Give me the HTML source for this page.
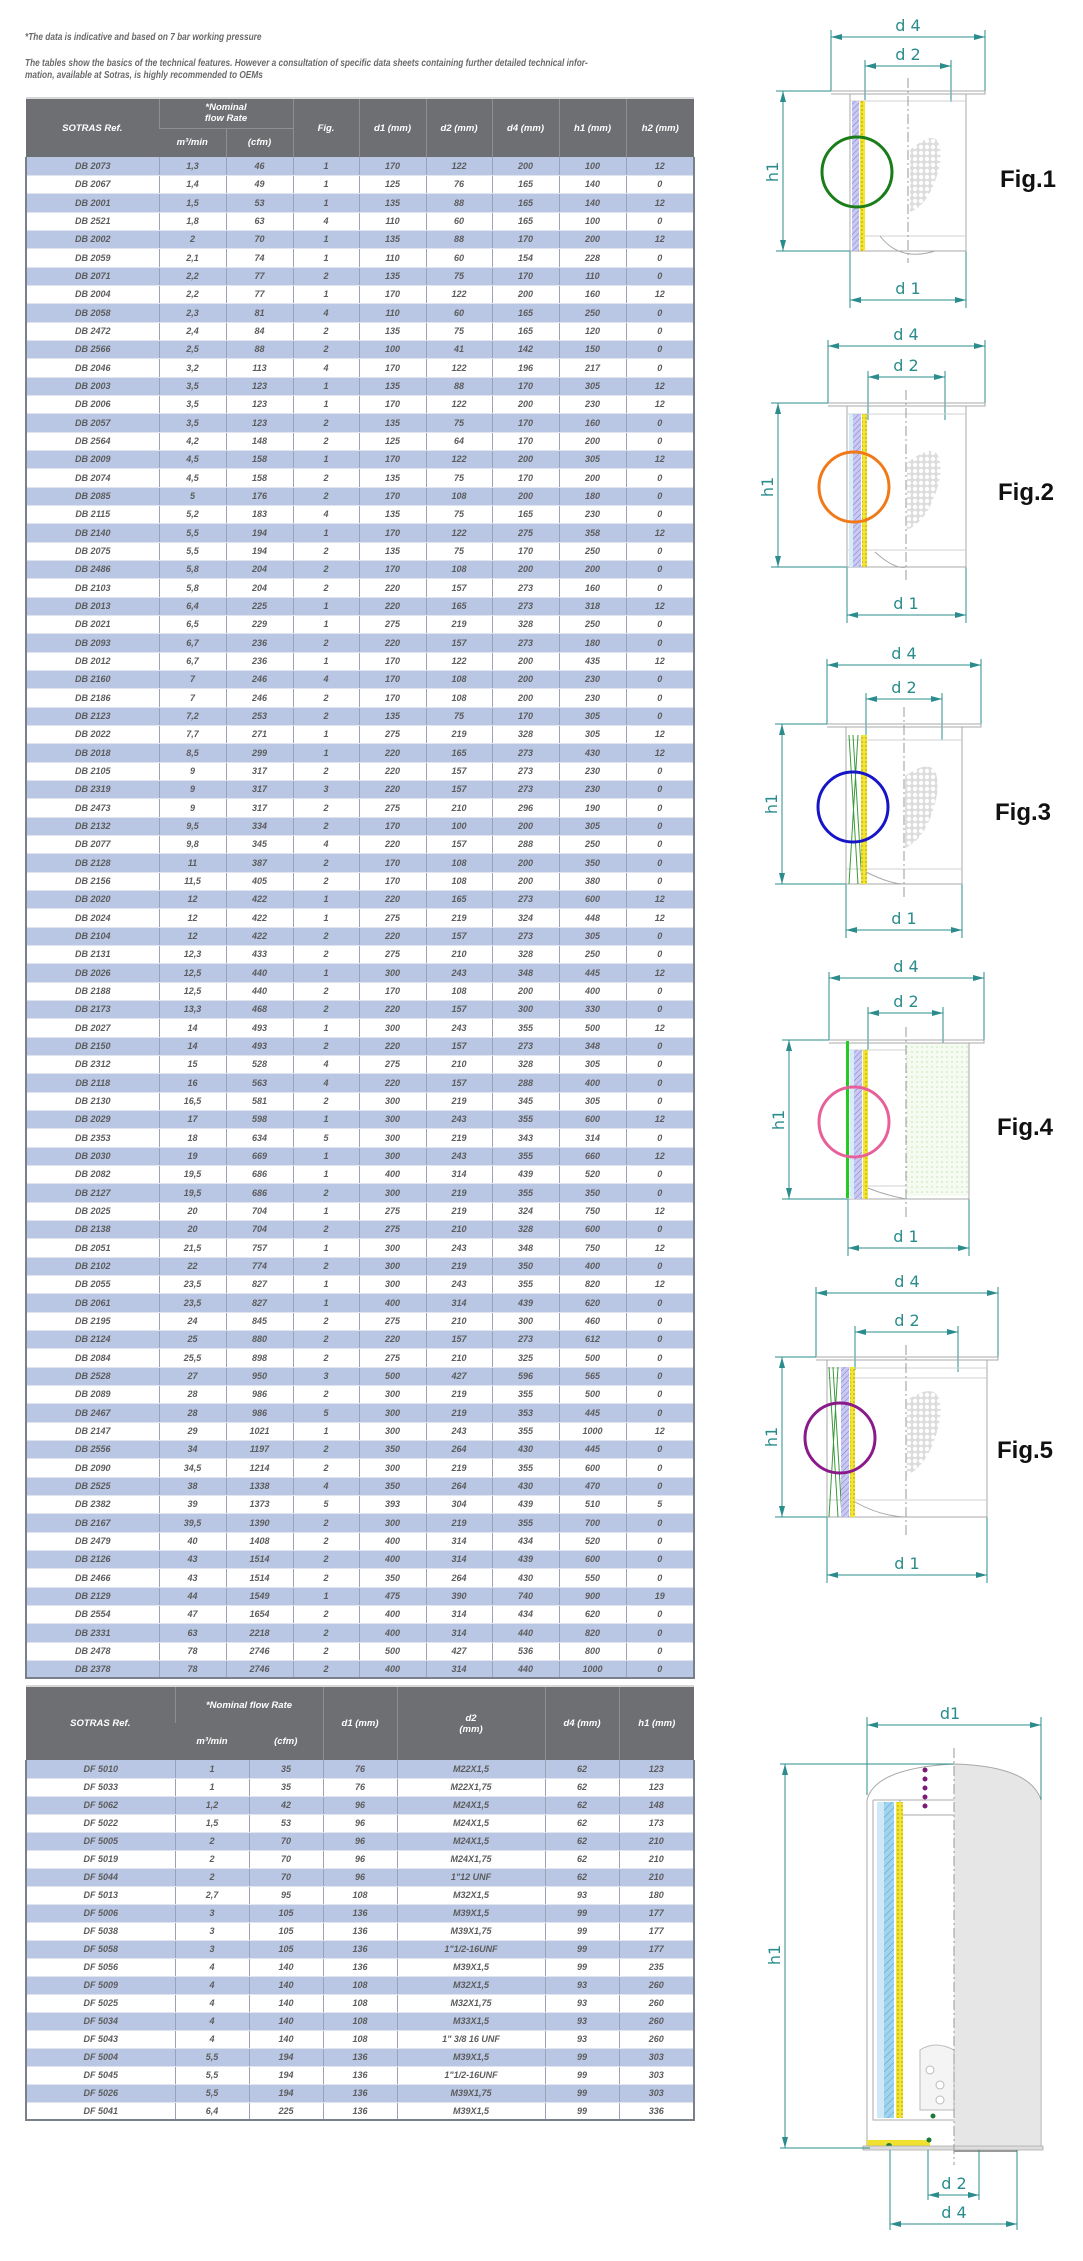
<!DOCTYPE html>
<html><head><meta charset="utf-8">
<style>
html,body{margin:0;padding:0;background:#fff;}
body{width:1083px;height:2261px;position:relative;overflow:hidden;font-family:"Liberation Sans",sans-serif;}
.note{position:absolute;left:25px;font-size:10.5px;font-weight:bold;font-style:italic;color:#6a6a6a;white-space:nowrap;transform:scaleX(0.79);transform-origin:left top;}
table{position:absolute;left:25px;border-collapse:collapse;table-layout:fixed;width:668px;font-size:9px;font-weight:bold;font-style:italic;color:#5c5c5c;}
td,th{text-align:center;padding:0;overflow:hidden;white-space:nowrap;}
th{background:#6e6f72;color:#fff;font-size:9.5px;border-left:1px solid #8e8f93;}
th:first-child{border-left:none;}
tbody tr{height:18px;}
#t1 tbody tr:nth-child(3n){height:19px;}
tbody td{border-left:1px solid #9aa2b8;border-bottom:1px solid #dfe4ef;line-height:10px;}
tbody td:first-child{border-left:2px solid #7a7f8c;}
tbody td:last-child{border-right:2px solid #7a7f8c;}
tbody tr:nth-child(odd){background:#b9c7e4;}
tbody tr:nth-child(even){background:#fff;}
tbody tr:last-child td{border-bottom:2px solid #7a7f8c;}
#t1{top:97px;border-top:2px solid #d8d8d8;}
#t2{top:1685px;border-top:2px solid #d8d8d8;}
svg{position:absolute;left:0;top:0;}
.dim{stroke:#2a8c8c;stroke-width:1;fill:none;}
.lab{fill:#2a8c8c;font-family:"DejaVu Sans","Liberation Sans",sans-serif;font-size:16px;text-anchor:middle;}
.fig{fill:#111;font-family:"Liberation Sans",sans-serif;font-size:24px;font-weight:bold;}
.body{stroke:#a8a8a8;stroke-width:1;fill:none;}
.thin{stroke:#d0d0d0;stroke-width:1;}
.cl{stroke:#9a9a9a;stroke-width:1;stroke-dasharray:10 3 2 3;}
</style></head><body>
<div class="note" style="top:31px">*The data is indicative and based on 7 bar working pressure</div>
<div class="note" style="top:57px">The tables show the basics of the technical features. However a consultation of specific data sheets containing further detailed technical infor-</div>
<div class="note" style="top:69px">mation, available at Sotras, is highly recommended to OEMs</div>

<table id="t1">
<colgroup><col style="width:133px"><col style="width:67px"><col style="width:67px"><col style="width:66px"><col style="width:67px"><col style="width:66px"><col style="width:67px"><col style="width:67px"><col style="width:68px"></colgroup>
<thead>
<tr style="height:30px"><th rowspan="2">SOTRAS Ref.</th><th colspan="2" style="border-bottom:1px solid #8e8f93">*Nominal<br>flow Rate</th><th rowspan="2">Fig.</th><th rowspan="2">d1 (mm)</th><th rowspan="2">d2 (mm)</th><th rowspan="2">d4 (mm)</th><th rowspan="2">h1 (mm)</th><th rowspan="2">h2 (mm)</th></tr>
<tr style="height:29px"><th style="border-left:none">m³/min</th><th>(cfm)</th></tr>
</thead>
<tbody>
<tr><td>DB 2073</td><td>1,3</td><td>46</td><td>1</td><td>170</td><td>122</td><td>200</td><td>100</td><td>12</td></tr>
<tr><td>DB 2067</td><td>1,4</td><td>49</td><td>1</td><td>125</td><td>76</td><td>165</td><td>140</td><td>0</td></tr>
<tr><td>DB 2001</td><td>1,5</td><td>53</td><td>1</td><td>135</td><td>88</td><td>165</td><td>140</td><td>12</td></tr>
<tr><td>DB 2521</td><td>1,8</td><td>63</td><td>4</td><td>110</td><td>60</td><td>165</td><td>100</td><td>0</td></tr>
<tr><td>DB 2002</td><td>2</td><td>70</td><td>1</td><td>135</td><td>88</td><td>170</td><td>200</td><td>12</td></tr>
<tr><td>DB 2059</td><td>2,1</td><td>74</td><td>1</td><td>110</td><td>60</td><td>154</td><td>228</td><td>0</td></tr>
<tr><td>DB 2071</td><td>2,2</td><td>77</td><td>2</td><td>135</td><td>75</td><td>170</td><td>110</td><td>0</td></tr>
<tr><td>DB 2004</td><td>2,2</td><td>77</td><td>1</td><td>170</td><td>122</td><td>200</td><td>160</td><td>12</td></tr>
<tr><td>DB 2058</td><td>2,3</td><td>81</td><td>4</td><td>110</td><td>60</td><td>165</td><td>250</td><td>0</td></tr>
<tr><td>DB 2472</td><td>2,4</td><td>84</td><td>2</td><td>135</td><td>75</td><td>165</td><td>120</td><td>0</td></tr>
<tr><td>DB 2566</td><td>2,5</td><td>88</td><td>2</td><td>100</td><td>41</td><td>142</td><td>150</td><td>0</td></tr>
<tr><td>DB 2046</td><td>3,2</td><td>113</td><td>4</td><td>170</td><td>122</td><td>196</td><td>217</td><td>0</td></tr>
<tr><td>DB 2003</td><td>3,5</td><td>123</td><td>1</td><td>135</td><td>88</td><td>170</td><td>305</td><td>12</td></tr>
<tr><td>DB 2006</td><td>3,5</td><td>123</td><td>1</td><td>170</td><td>122</td><td>200</td><td>230</td><td>12</td></tr>
<tr><td>DB 2057</td><td>3,5</td><td>123</td><td>2</td><td>135</td><td>75</td><td>170</td><td>160</td><td>0</td></tr>
<tr><td>DB 2564</td><td>4,2</td><td>148</td><td>2</td><td>125</td><td>64</td><td>170</td><td>200</td><td>0</td></tr>
<tr><td>DB 2009</td><td>4,5</td><td>158</td><td>1</td><td>170</td><td>122</td><td>200</td><td>305</td><td>12</td></tr>
<tr><td>DB 2074</td><td>4,5</td><td>158</td><td>2</td><td>135</td><td>75</td><td>170</td><td>200</td><td>0</td></tr>
<tr><td>DB 2085</td><td>5</td><td>176</td><td>2</td><td>170</td><td>108</td><td>200</td><td>180</td><td>0</td></tr>
<tr><td>DB 2115</td><td>5,2</td><td>183</td><td>4</td><td>135</td><td>75</td><td>165</td><td>230</td><td>0</td></tr>
<tr><td>DB 2140</td><td>5,5</td><td>194</td><td>1</td><td>170</td><td>122</td><td>275</td><td>358</td><td>12</td></tr>
<tr><td>DB 2075</td><td>5,5</td><td>194</td><td>2</td><td>135</td><td>75</td><td>170</td><td>250</td><td>0</td></tr>
<tr><td>DB 2486</td><td>5,8</td><td>204</td><td>2</td><td>170</td><td>108</td><td>200</td><td>200</td><td>0</td></tr>
<tr><td>DB 2103</td><td>5,8</td><td>204</td><td>2</td><td>220</td><td>157</td><td>273</td><td>160</td><td>0</td></tr>
<tr><td>DB 2013</td><td>6,4</td><td>225</td><td>1</td><td>220</td><td>165</td><td>273</td><td>318</td><td>12</td></tr>
<tr><td>DB 2021</td><td>6,5</td><td>229</td><td>1</td><td>275</td><td>219</td><td>328</td><td>250</td><td>0</td></tr>
<tr><td>DB 2093</td><td>6,7</td><td>236</td><td>2</td><td>220</td><td>157</td><td>273</td><td>180</td><td>0</td></tr>
<tr><td>DB 2012</td><td>6,7</td><td>236</td><td>1</td><td>170</td><td>122</td><td>200</td><td>435</td><td>12</td></tr>
<tr><td>DB 2160</td><td>7</td><td>246</td><td>4</td><td>170</td><td>108</td><td>200</td><td>230</td><td>0</td></tr>
<tr><td>DB 2186</td><td>7</td><td>246</td><td>2</td><td>170</td><td>108</td><td>200</td><td>230</td><td>0</td></tr>
<tr><td>DB 2123</td><td>7,2</td><td>253</td><td>2</td><td>135</td><td>75</td><td>170</td><td>305</td><td>0</td></tr>
<tr><td>DB 2022</td><td>7,7</td><td>271</td><td>1</td><td>275</td><td>219</td><td>328</td><td>305</td><td>12</td></tr>
<tr><td>DB 2018</td><td>8,5</td><td>299</td><td>1</td><td>220</td><td>165</td><td>273</td><td>430</td><td>12</td></tr>
<tr><td>DB 2105</td><td>9</td><td>317</td><td>2</td><td>220</td><td>157</td><td>273</td><td>230</td><td>0</td></tr>
<tr><td>DB 2319</td><td>9</td><td>317</td><td>3</td><td>220</td><td>157</td><td>273</td><td>230</td><td>0</td></tr>
<tr><td>DB 2473</td><td>9</td><td>317</td><td>2</td><td>275</td><td>210</td><td>296</td><td>190</td><td>0</td></tr>
<tr><td>DB 2132</td><td>9,5</td><td>334</td><td>2</td><td>170</td><td>100</td><td>200</td><td>305</td><td>0</td></tr>
<tr><td>DB 2077</td><td>9,8</td><td>345</td><td>4</td><td>220</td><td>157</td><td>288</td><td>250</td><td>0</td></tr>
<tr><td>DB 2128</td><td>11</td><td>387</td><td>2</td><td>170</td><td>108</td><td>200</td><td>350</td><td>0</td></tr>
<tr><td>DB 2156</td><td>11,5</td><td>405</td><td>2</td><td>170</td><td>108</td><td>200</td><td>380</td><td>0</td></tr>
<tr><td>DB 2020</td><td>12</td><td>422</td><td>1</td><td>220</td><td>165</td><td>273</td><td>600</td><td>12</td></tr>
<tr><td>DB 2024</td><td>12</td><td>422</td><td>1</td><td>275</td><td>219</td><td>324</td><td>448</td><td>12</td></tr>
<tr><td>DB 2104</td><td>12</td><td>422</td><td>2</td><td>220</td><td>157</td><td>273</td><td>305</td><td>0</td></tr>
<tr><td>DB 2131</td><td>12,3</td><td>433</td><td>2</td><td>275</td><td>210</td><td>328</td><td>250</td><td>0</td></tr>
<tr><td>DB 2026</td><td>12,5</td><td>440</td><td>1</td><td>300</td><td>243</td><td>348</td><td>445</td><td>12</td></tr>
<tr><td>DB 2188</td><td>12,5</td><td>440</td><td>2</td><td>170</td><td>108</td><td>200</td><td>400</td><td>0</td></tr>
<tr><td>DB 2173</td><td>13,3</td><td>468</td><td>2</td><td>220</td><td>157</td><td>300</td><td>330</td><td>0</td></tr>
<tr><td>DB 2027</td><td>14</td><td>493</td><td>1</td><td>300</td><td>243</td><td>355</td><td>500</td><td>12</td></tr>
<tr><td>DB 2150</td><td>14</td><td>493</td><td>2</td><td>220</td><td>157</td><td>273</td><td>348</td><td>0</td></tr>
<tr><td>DB 2312</td><td>15</td><td>528</td><td>4</td><td>275</td><td>210</td><td>328</td><td>305</td><td>0</td></tr>
<tr><td>DB 2118</td><td>16</td><td>563</td><td>4</td><td>220</td><td>157</td><td>288</td><td>400</td><td>0</td></tr>
<tr><td>DB 2130</td><td>16,5</td><td>581</td><td>2</td><td>300</td><td>219</td><td>345</td><td>305</td><td>0</td></tr>
<tr><td>DB 2029</td><td>17</td><td>598</td><td>1</td><td>300</td><td>243</td><td>355</td><td>600</td><td>12</td></tr>
<tr><td>DB 2353</td><td>18</td><td>634</td><td>5</td><td>300</td><td>219</td><td>343</td><td>314</td><td>0</td></tr>
<tr><td>DB 2030</td><td>19</td><td>669</td><td>1</td><td>300</td><td>243</td><td>355</td><td>660</td><td>12</td></tr>
<tr><td>DB 2082</td><td>19,5</td><td>686</td><td>1</td><td>400</td><td>314</td><td>439</td><td>520</td><td>0</td></tr>
<tr><td>DB 2127</td><td>19,5</td><td>686</td><td>2</td><td>300</td><td>219</td><td>355</td><td>350</td><td>0</td></tr>
<tr><td>DB 2025</td><td>20</td><td>704</td><td>1</td><td>275</td><td>219</td><td>324</td><td>750</td><td>12</td></tr>
<tr><td>DB 2138</td><td>20</td><td>704</td><td>2</td><td>275</td><td>210</td><td>328</td><td>600</td><td>0</td></tr>
<tr><td>DB 2051</td><td>21,5</td><td>757</td><td>1</td><td>300</td><td>243</td><td>348</td><td>750</td><td>12</td></tr>
<tr><td>DB 2102</td><td>22</td><td>774</td><td>2</td><td>300</td><td>219</td><td>350</td><td>400</td><td>0</td></tr>
<tr><td>DB 2055</td><td>23,5</td><td>827</td><td>1</td><td>300</td><td>243</td><td>355</td><td>820</td><td>12</td></tr>
<tr><td>DB 2061</td><td>23,5</td><td>827</td><td>1</td><td>400</td><td>314</td><td>439</td><td>620</td><td>0</td></tr>
<tr><td>DB 2195</td><td>24</td><td>845</td><td>2</td><td>275</td><td>210</td><td>300</td><td>460</td><td>0</td></tr>
<tr><td>DB 2124</td><td>25</td><td>880</td><td>2</td><td>220</td><td>157</td><td>273</td><td>612</td><td>0</td></tr>
<tr><td>DB 2084</td><td>25,5</td><td>898</td><td>2</td><td>275</td><td>210</td><td>325</td><td>500</td><td>0</td></tr>
<tr><td>DB 2528</td><td>27</td><td>950</td><td>3</td><td>500</td><td>427</td><td>596</td><td>565</td><td>0</td></tr>
<tr><td>DB 2089</td><td>28</td><td>986</td><td>2</td><td>300</td><td>219</td><td>355</td><td>500</td><td>0</td></tr>
<tr><td>DB 2467</td><td>28</td><td>986</td><td>5</td><td>300</td><td>219</td><td>353</td><td>445</td><td>0</td></tr>
<tr><td>DB 2147</td><td>29</td><td>1021</td><td>1</td><td>300</td><td>243</td><td>355</td><td>1000</td><td>12</td></tr>
<tr><td>DB 2556</td><td>34</td><td>1197</td><td>2</td><td>350</td><td>264</td><td>430</td><td>445</td><td>0</td></tr>
<tr><td>DB 2090</td><td>34,5</td><td>1214</td><td>2</td><td>300</td><td>219</td><td>355</td><td>600</td><td>0</td></tr>
<tr><td>DB 2525</td><td>38</td><td>1338</td><td>4</td><td>350</td><td>264</td><td>430</td><td>470</td><td>0</td></tr>
<tr><td>DB 2382</td><td>39</td><td>1373</td><td>5</td><td>393</td><td>304</td><td>439</td><td>510</td><td>5</td></tr>
<tr><td>DB 2167</td><td>39,5</td><td>1390</td><td>2</td><td>300</td><td>219</td><td>355</td><td>700</td><td>0</td></tr>
<tr><td>DB 2479</td><td>40</td><td>1408</td><td>2</td><td>400</td><td>314</td><td>434</td><td>520</td><td>0</td></tr>
<tr><td>DB 2126</td><td>43</td><td>1514</td><td>2</td><td>400</td><td>314</td><td>439</td><td>600</td><td>0</td></tr>
<tr><td>DB 2466</td><td>43</td><td>1514</td><td>2</td><td>350</td><td>264</td><td>430</td><td>550</td><td>0</td></tr>
<tr><td>DB 2129</td><td>44</td><td>1549</td><td>1</td><td>475</td><td>390</td><td>740</td><td>900</td><td>19</td></tr>
<tr><td>DB 2554</td><td>47</td><td>1654</td><td>2</td><td>400</td><td>314</td><td>434</td><td>620</td><td>0</td></tr>
<tr><td>DB 2331</td><td>63</td><td>2218</td><td>2</td><td>400</td><td>314</td><td>440</td><td>820</td><td>0</td></tr>
<tr><td>DB 2478</td><td>78</td><td>2746</td><td>2</td><td>500</td><td>427</td><td>536</td><td>800</td><td>0</td></tr>
<tr><td>DB 2378</td><td>78</td><td>2746</td><td>2</td><td>400</td><td>314</td><td>440</td><td>1000</td><td>0</td></tr>
</tbody></table>

<table id="t2">
<colgroup><col style="width:149px"><col style="width:74px"><col style="width:74px"><col style="width:74px"><col style="width:148px"><col style="width:74px"><col style="width:75px"></colgroup>
<thead>
<tr style="height:37px"><th rowspan="2">SOTRAS Ref.</th><th colspan="2">*Nominal flow Rate</th><th rowspan="2">d1 (mm)</th><th rowspan="2">d2<br>(mm)</th><th rowspan="2">d4 (mm)</th><th rowspan="2">h1 (mm)</th></tr>
<tr style="height:37px"><th style="border-left:none">m³/min</th><th style="border-left:none">(cfm)</th></tr>
</thead>
<tbody>
<tr><td>DF 5010</td><td>1</td><td>35</td><td>76</td><td>M22X1,5</td><td>62</td><td>123</td></tr>
<tr><td>DF 5033</td><td>1</td><td>35</td><td>76</td><td>M22X1,75</td><td>62</td><td>123</td></tr>
<tr><td>DF 5062</td><td>1,2</td><td>42</td><td>96</td><td>M24X1,5</td><td>62</td><td>148</td></tr>
<tr><td>DF 5022</td><td>1,5</td><td>53</td><td>96</td><td>M24X1,5</td><td>62</td><td>173</td></tr>
<tr><td>DF 5005</td><td>2</td><td>70</td><td>96</td><td>M24X1,5</td><td>62</td><td>210</td></tr>
<tr><td>DF 5019</td><td>2</td><td>70</td><td>96</td><td>M24X1,75</td><td>62</td><td>210</td></tr>
<tr><td>DF 5044</td><td>2</td><td>70</td><td>96</td><td>1"12 UNF</td><td>62</td><td>210</td></tr>
<tr><td>DF 5013</td><td>2,7</td><td>95</td><td>108</td><td>M32X1,5</td><td>93</td><td>180</td></tr>
<tr><td>DF 5006</td><td>3</td><td>105</td><td>136</td><td>M39X1,5</td><td>99</td><td>177</td></tr>
<tr><td>DF 5038</td><td>3</td><td>105</td><td>136</td><td>M39X1,75</td><td>99</td><td>177</td></tr>
<tr><td>DF 5058</td><td>3</td><td>105</td><td>136</td><td>1"1/2-16UNF</td><td>99</td><td>177</td></tr>
<tr><td>DF 5056</td><td>4</td><td>140</td><td>136</td><td>M39X1,5</td><td>99</td><td>235</td></tr>
<tr><td>DF 5009</td><td>4</td><td>140</td><td>108</td><td>M32X1,5</td><td>93</td><td>260</td></tr>
<tr><td>DF 5025</td><td>4</td><td>140</td><td>108</td><td>M32X1,75</td><td>93</td><td>260</td></tr>
<tr><td>DF 5034</td><td>4</td><td>140</td><td>108</td><td>M33X1,5</td><td>93</td><td>260</td></tr>
<tr><td>DF 5043</td><td>4</td><td>140</td><td>108</td><td>1" 3/8 16 UNF</td><td>93</td><td>260</td></tr>
<tr><td>DF 5004</td><td>5,5</td><td>194</td><td>136</td><td>M39X1,5</td><td>99</td><td>303</td></tr>
<tr><td>DF 5045</td><td>5,5</td><td>194</td><td>136</td><td>1"1/2-16UNF</td><td>99</td><td>303</td></tr>
<tr><td>DF 5026</td><td>5,5</td><td>194</td><td>136</td><td>M39X1,75</td><td>99</td><td>303</td></tr>
<tr><td>DF 5041</td><td>6,4</td><td>225</td><td>136</td><td>M39X1,5</td><td>99</td><td>336</td></tr>
</tbody></table>

<svg width="1083" height="2261" viewBox="0 0 1083 2261">
<defs>
<marker id="ar" markerWidth="11" markerHeight="6" refX="11" refY="3" orient="auto-start-reverse" markerUnits="userSpaceOnUse"><path d="M0,0L11,3L0,6z" fill="#2a8c8c"/></marker>
<pattern id="hatch" width="4" height="4" patternUnits="userSpaceOnUse" patternTransform="rotate(45)"><rect width="4" height="4" fill="#c9c9f2"/><line x1="0" y1="0" x2="0" y2="4" stroke="#7b7bd0" stroke-width="1"/></pattern>
<pattern id="hatchb" width="5" height="5" patternUnits="userSpaceOnUse" patternTransform="rotate(45)"><rect width="5" height="5" fill="#9fd3ef"/><line x1="0" y1="0" x2="0" y2="5" stroke="#5a9fc6" stroke-width="1"/></pattern>
<pattern id="yel" width="4" height="4" patternUnits="userSpaceOnUse"><rect width="4" height="4" fill="#f2e430"/><circle cx="2" cy="2" r="1" fill="#c8b820"/></pattern>
<pattern id="dots" width="6" height="6" patternUnits="userSpaceOnUse"><rect width="6" height="6" fill="#ddd"/><circle cx="3" cy="3" r="2.2" fill="#fff"/></pattern>
<pattern id="gdots" width="5" height="5" patternUnits="userSpaceOnUse"><rect width="5" height="5" fill="#f6fbf2"/><circle cx="2" cy="2" r="0.6" fill="#9fd88a"/></pattern>
</defs>

<!-- FIG 1 -->
<g>
<path class="dim" d="M831 30V91M985 30V91M865 60V100M951 60V102M776 91H850M776 251H850M850 251V308M966 251V308"/>
<line class="dim" x1="831" y1="37" x2="985" y2="37" marker-start="url(#ar)" marker-end="url(#ar)"/>
<line class="dim" x1="865" y1="66" x2="951" y2="66" marker-start="url(#ar)" marker-end="url(#ar)"/>
<line class="dim" x1="783" y1="91" x2="783" y2="251" marker-start="url(#ar)" marker-end="url(#ar)"/>
<line class="dim" x1="850" y1="300" x2="966" y2="300" marker-start="url(#ar)" marker-end="url(#ar)"/>
<text class="lab" x="908" y="31">d 4</text><text class="lab" x="908" y="60">d 2</text><text class="lab" x="908" y="294">d 1</text>
<text class="lab" transform="translate(778,172) rotate(-90)">h1</text>
<path class="body" d="M831 91H985V94H831M850 94V251H966V94"/>
<line class="thin" x1="850" y1="101" x2="966" y2="101"/><line class="thin" x1="850" y1="236" x2="966" y2="236"/>
<rect x="852" y="101" width="7" height="150" fill="url(#hatch)"/><rect x="860" y="101" width="5" height="150" fill="url(#yel)"/>
<path d="M910 150Q945 120 940 165Q930 205 910 212Z" fill="url(#dots)"/>
<path d="M880 236Q900 262 935 251" class="body"/>
<line class="cl" x1="908" y1="78" x2="908" y2="263"/>
<circle cx="857" cy="172" r="35" fill="none" stroke="#1a7d1a" stroke-width="3"/>
<text class="fig" x="1000" y="187">Fig.1</text>
</g>

<!-- FIG 2 -->
<g>
<path class="dim" d="M828 340V403M985 340V403M868 371V420M945 371V420M771 403H847M771 567H847M847 567V623M966 567V623"/>
<line class="dim" x1="828" y1="346" x2="985" y2="346" marker-start="url(#ar)" marker-end="url(#ar)"/>
<line class="dim" x1="868" y1="377" x2="945" y2="377" marker-start="url(#ar)" marker-end="url(#ar)"/>
<line class="dim" x1="778" y1="403" x2="778" y2="567" marker-start="url(#ar)" marker-end="url(#ar)"/>
<line class="dim" x1="847" y1="615" x2="966" y2="615" marker-start="url(#ar)" marker-end="url(#ar)"/>
<text class="lab" x="906" y="340">d 4</text><text class="lab" x="906" y="371">d 2</text><text class="lab" x="906" y="609">d 1</text>
<text class="lab" transform="translate(773,487) rotate(-90)">h1</text>
<path class="body" d="M828 403H985V406H828M847 406V567H966V406"/>
<line class="thin" x1="847" y1="414" x2="966" y2="414"/><line class="thin" x1="847" y1="550" x2="966" y2="550"/>
<rect x="849" y="414" width="4" height="153" fill="#d8ecf8"/><rect x="853" y="414" width="8" height="153" fill="url(#hatch)"/><rect x="862" y="414" width="5" height="153" fill="url(#yel)"/>
<path d="M907 463Q945 433 940 478Q930 520 907 530Z" fill="url(#dots)"/>
<path d="M875 552Q895 570 906 567" class="body"/>
<line class="cl" x1="906" y1="390" x2="906" y2="580"/>
<circle cx="854" cy="487" r="35" fill="none" stroke="#f07a1a" stroke-width="3"/>
<text class="fig" x="998" y="500">Fig.2</text>
</g>

<!-- FIG 3 -->
<g>
<path class="dim" d="M827 659V724M981 659V724M866 693V740M942 693V740M775 724H846M775 884H846M846 884V938M962 884V938"/>
<line class="dim" x1="827" y1="665" x2="981" y2="665" marker-start="url(#ar)" marker-end="url(#ar)"/>
<line class="dim" x1="866" y1="699" x2="942" y2="699" marker-start="url(#ar)" marker-end="url(#ar)"/>
<line class="dim" x1="782" y1="724" x2="782" y2="884" marker-start="url(#ar)" marker-end="url(#ar)"/>
<line class="dim" x1="846" y1="930" x2="962" y2="930" marker-start="url(#ar)" marker-end="url(#ar)"/>
<text class="lab" x="904" y="659">d 4</text><text class="lab" x="904" y="693">d 2</text><text class="lab" x="904" y="924">d 1</text>
<text class="lab" transform="translate(777,804) rotate(-90)">h1</text>
<path class="body" d="M827 724H981V727H827M846 727V884H962V727"/>
<line class="thin" x1="846" y1="740" x2="962" y2="740"/><line class="thin" x1="846" y1="869" x2="962" y2="869"/>
<path d="M849 735L858 884M858 735L849 884M853 735L862 884" stroke="#3a9a3a" stroke-width="1" fill="none"/>
<rect x="861" y="735" width="6" height="149" fill="url(#yel)"/>
<path d="M905 776Q942 750 937 795Q928 838 905 848Z" fill="url(#dots)"/>
<path d="M866 872Q890 884 904 884" class="body"/>
<line class="cl" x1="904" y1="707" x2="904" y2="898"/>
<circle cx="853" cy="807" r="35" fill="none" stroke="#1616c8" stroke-width="3"/>
<text class="fig" x="995" y="820">Fig.3</text>
</g>

<!-- FIG 4 -->
<g>
<path class="dim" d="M829 972V1040M984 972V1040M868 1007V1050M943 1007V1050M782 1040H848M782 1199H848M848 1199V1256M969 1199V1256"/>
<line class="dim" x1="829" y1="978" x2="984" y2="978" marker-start="url(#ar)" marker-end="url(#ar)"/>
<line class="dim" x1="868" y1="1013" x2="943" y2="1013" marker-start="url(#ar)" marker-end="url(#ar)"/>
<line class="dim" x1="789" y1="1040" x2="789" y2="1199" marker-start="url(#ar)" marker-end="url(#ar)"/>
<line class="dim" x1="848" y1="1248" x2="969" y2="1248" marker-start="url(#ar)" marker-end="url(#ar)"/>
<text class="lab" x="906" y="972">d 4</text><text class="lab" x="906" y="1007">d 2</text><text class="lab" x="906" y="1242">d 1</text>
<text class="lab" transform="translate(784,1120) rotate(-90)">h1</text>
<rect x="906" y="1043" width="63" height="153" fill="url(#gdots)"/>
<path class="body" d="M829 1040H984V1043H829M848 1043V1199H969V1043"/>
<line class="thin" x1="848" y1="1050" x2="906" y2="1050"/><line class="thin" x1="848" y1="1186" x2="906" y2="1186"/>
<rect x="846" y="1041" width="3" height="157" fill="#22cc22"/>
<rect x="850" y="1050" width="4" height="149" fill="#d8ecf8"/><rect x="854" y="1050" width="8" height="149" fill="url(#hatch)"/><rect x="863" y="1050" width="5" height="149" fill="url(#yel)"/>
<path d="M868 1188Q885 1195 906 1199" class="body"/>
<line class="cl" x1="906" y1="1027" x2="906" y2="1220"/>
<circle cx="854" cy="1122" r="35" fill="none" stroke="#e8609a" stroke-width="3"/>
<text class="fig" x="997" y="1135">Fig.4</text>
</g>

<!-- FIG 5 -->
<g>
<path class="dim" d="M816 1287V1357M998 1287V1357M855 1326V1370M958 1326V1372M775 1357H827M775 1517H827M827 1517V1583M987 1517V1583"/>
<line class="dim" x1="816" y1="1293" x2="998" y2="1293" marker-start="url(#ar)" marker-end="url(#ar)"/>
<line class="dim" x1="855" y1="1332" x2="958" y2="1332" marker-start="url(#ar)" marker-end="url(#ar)"/>
<line class="dim" x1="782" y1="1357" x2="782" y2="1517" marker-start="url(#ar)" marker-end="url(#ar)"/>
<line class="dim" x1="827" y1="1575" x2="987" y2="1575" marker-start="url(#ar)" marker-end="url(#ar)"/>
<text class="lab" x="907" y="1287">d 4</text><text class="lab" x="907" y="1326">d 2</text><text class="lab" x="907" y="1569">d 1</text>
<text class="lab" transform="translate(777,1437) rotate(-90)">h1</text>
<path class="body" d="M816 1357H998V1360H816M827 1360V1517H987V1360"/>
<line class="thin" x1="827" y1="1368" x2="987" y2="1368"/><line class="thin" x1="827" y1="1378" x2="987" y2="1378"/><line class="thin" x1="827" y1="1500" x2="987" y2="1500"/>
<path d="M829 1367L838 1517M838 1367L829 1517M833 1367L842 1517" stroke="#3a9a3a" stroke-width="1" fill="none"/>
<rect x="841" y="1367" width="8" height="150" fill="url(#hatch)"/><rect x="850" y="1367" width="5" height="150" fill="url(#yel)"/>
<path d="M907 1400Q945 1375 940 1420Q930 1465 907 1475Z" fill="url(#dots)"/>
<path d="M855 1502Q880 1516 905 1517" class="body"/>
<line class="cl" x1="906" y1="1345" x2="906" y2="1537"/>
<circle cx="840" cy="1438" r="35" fill="none" stroke="#8a1a8a" stroke-width="3"/>
<text class="fig" x="997" y="1458">Fig.5</text>
</g>

<!-- FIG 6 (bottom) -->
<g>
<path d="M954 1764Q1030 1766 1040 1800V2146H954Z" fill="#e6e6e6"/>
<path class="body" d="M867 1800Q875 1768 954 1764Q1030 1766 1041 1800V2146M867 1800V2146"/>
<path class="body" d="M873 1800H954M873 1800V2120H954M900 1800V1815H954"/>
<rect x="877" y="1802" width="7" height="316" fill="#cfe8f8"/><rect x="884" y="1802" width="10" height="316" fill="url(#hatchb)"/><rect x="896" y="1802" width="7" height="316" fill="url(#yel)"/>
<g fill="#7a1a7a"><circle cx="925" cy="1770" r="2.5"/><circle cx="925" cy="1779" r="2.5"/><circle cx="925" cy="1788" r="2.5"/><circle cx="925" cy="1797" r="2.5"/><circle cx="925" cy="1806" r="2.5"/></g>
<path d="M920 2050Q935 2040 954 2050V2110H920Z" fill="#f4f4f4" stroke="#bbb"/>
<g fill="#fff" stroke="#bbb"><circle cx="930" cy="2070" r="4"/><circle cx="940" cy="2085" r="4"/><circle cx="940" cy="2100" r="4"/></g>
<path d="M867 2140H930V2148H867Z" fill="#f0e030"/>
<circle cx="889" cy="2146" r="3" fill="#1a7a3a"/><circle cx="929" cy="2140" r="2.5" fill="#1a7a3a"/><circle cx="933" cy="2116" r="2.5" fill="#1a7a3a"/>
<path d="M863 2146H1043V2150H863Z" fill="#ddd" stroke="#aaa" stroke-width="0.8"/>
<path d="M954 2150H1017V2152H954Z" fill="#999"/>
<line class="cl" x1="954" y1="1748" x2="954" y2="2165"/>
<path class="dim" d="M867 1717V1795M1041 1717V1800M780 1764H954M780 2148H870M928 2150V2200M979 2150V2200M890 2150V2230M1017 2150V2230"/>
<line class="dim" x1="867" y1="1725" x2="1041" y2="1725" marker-start="url(#ar)" marker-end="url(#ar)"/>
<line class="dim" x1="785" y1="1764" x2="785" y2="2148" marker-start="url(#ar)" marker-end="url(#ar)"/>
<line class="dim" x1="928" y1="2195" x2="979" y2="2195" marker-start="url(#ar)" marker-end="url(#ar)"/>
<line class="dim" x1="890" y1="2224" x2="1017" y2="2224" marker-start="url(#ar)" marker-end="url(#ar)"/>
<text class="lab" x="950" y="1719">d1</text><text class="lab" x="954" y="2189">d 2</text><text class="lab" x="954" y="2218">d 4</text>
<text class="lab" transform="translate(780,1955) rotate(-90)">h1</text>
</g>
</svg>
</body></html>
